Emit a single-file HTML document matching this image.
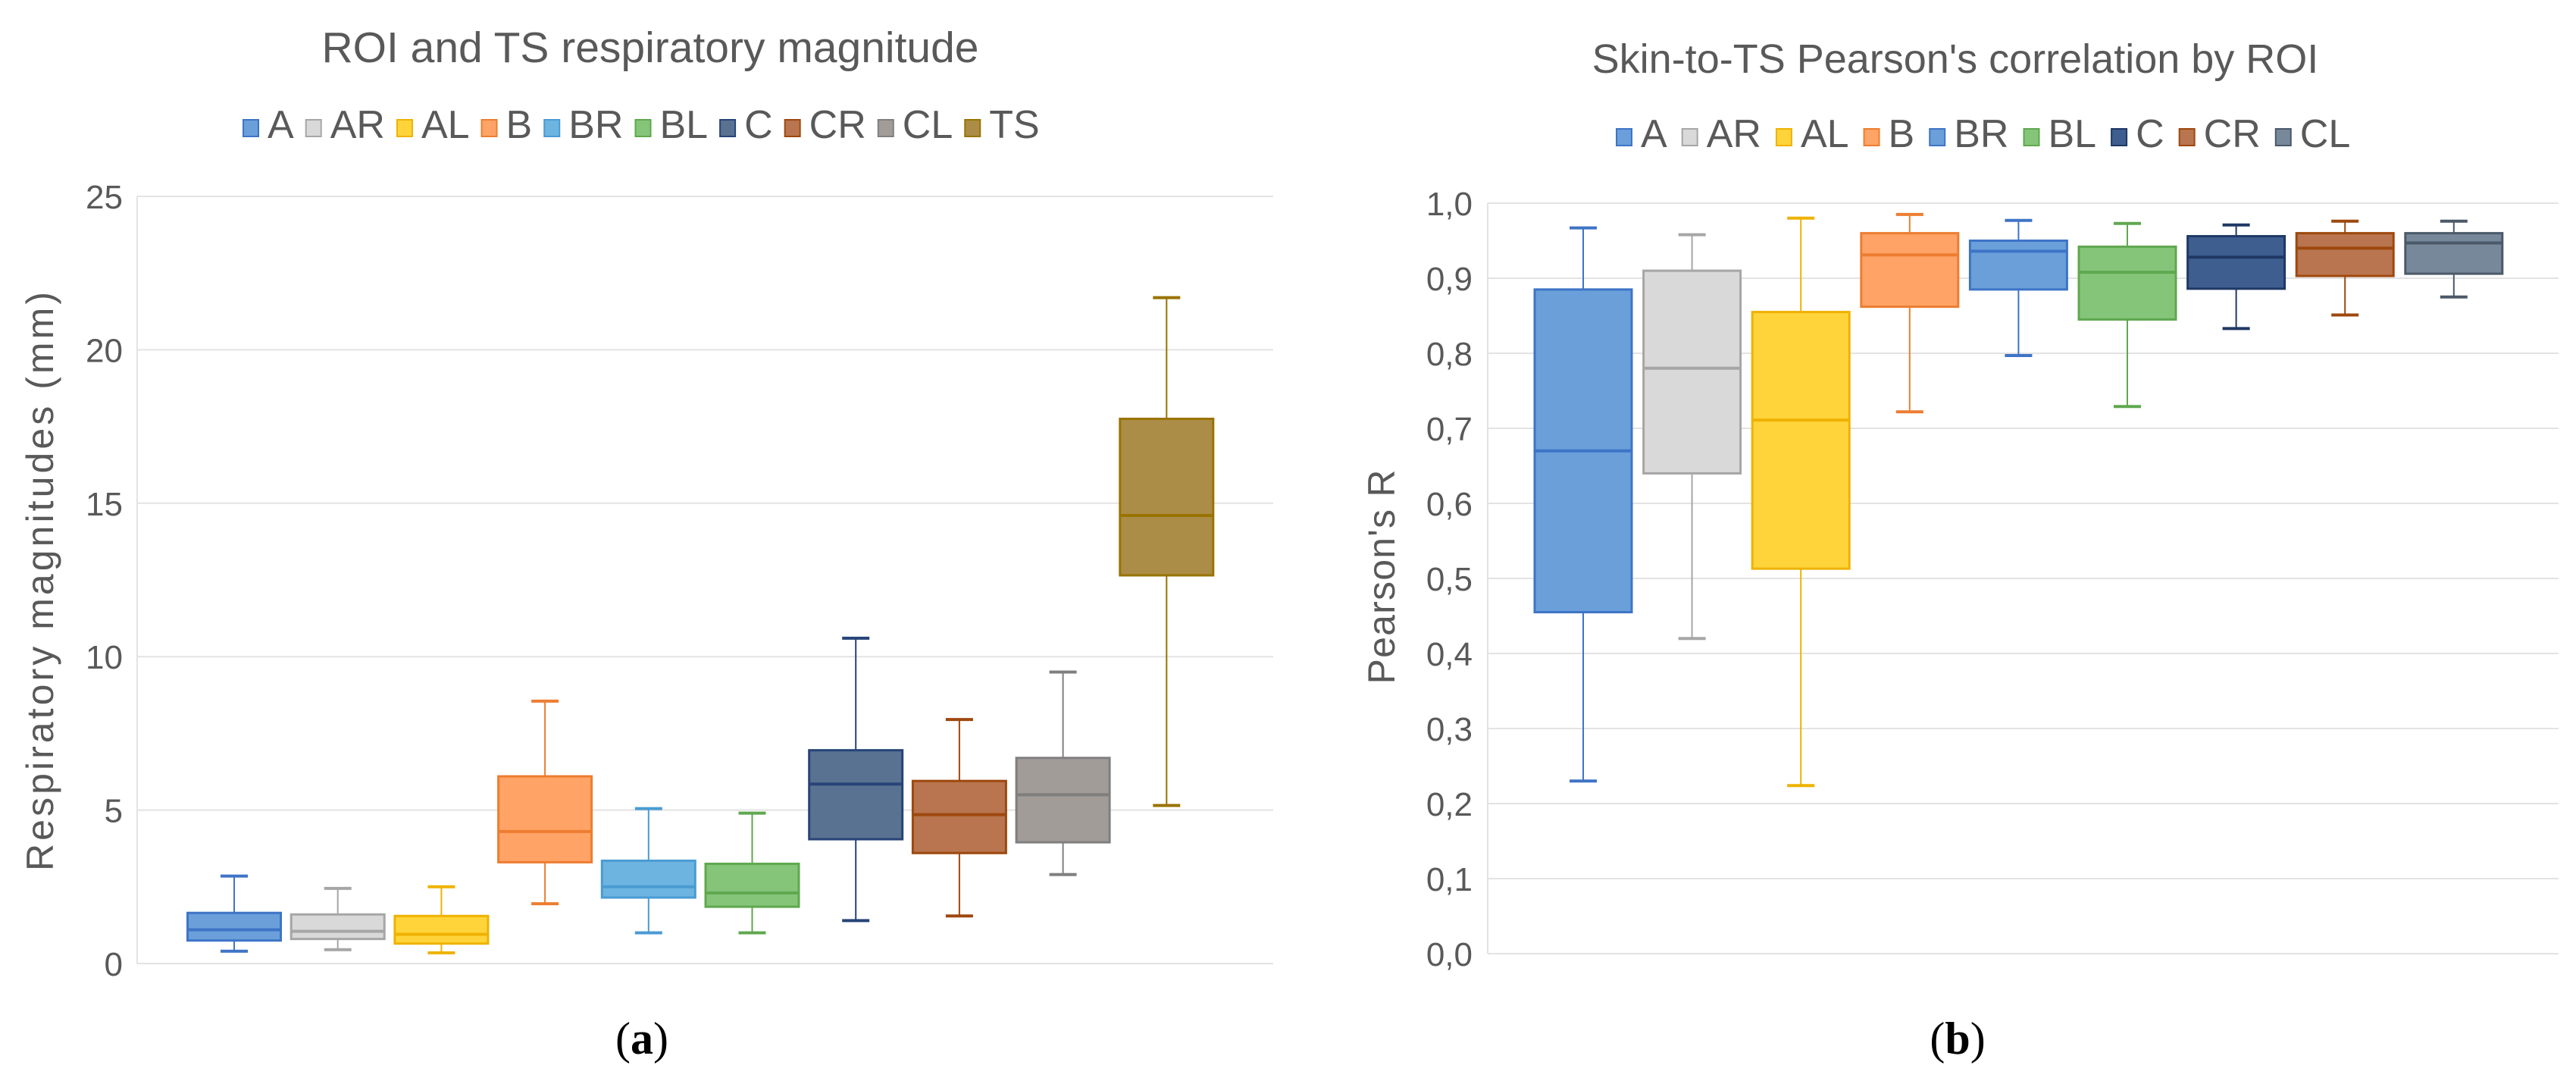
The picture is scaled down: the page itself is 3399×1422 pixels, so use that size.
<!DOCTYPE html>
<html><head><meta charset="utf-8"><style>
html,body{margin:0;padding:0;background:#fff;}
body{width:3399px;height:1422px;overflow:hidden;position:relative;font-family:"Liberation Sans",sans-serif;}
svg{position:absolute;left:0;top:0;}
</style></head><body>
<svg id="chart" width="3399" height="1422" viewBox="0 0 3399 1422" xmlns="http://www.w3.org/2000/svg"></svg>
<script>
// ---- chart (a) data ----
const catsA = ["A","AR","AL","B","BR","BL","C","CR","CL","TS"];
const minA = [0.4,0.45,0.35,1.95,1.0,1.0,1.4,1.55,2.9,5.15];
const q1A  = [0.75,0.8,0.65,3.3,2.15,1.85,4.05,3.6,3.95,12.65];
const medA = [1.1,1.05,0.95,4.3,2.5,2.3,5.85,4.85,5.5,14.6];
const q3A  = [1.65,1.6,1.55,6.1,3.35,3.25,6.95,5.95,6.7,17.75];
const maxA = [2.85,2.45,2.5,8.55,5.05,4.9,10.6,7.95,9.5,21.7];
const ticksA = ["0","5","10","15","20","25"];
const tickValsA = [0,5,10,15,20,25];
// ---- chart (b) data ----
const catsB = ["A","AR","AL","B","BR","BL","C","CR","CL"];
const minB = [0.23,0.42,0.224,0.722,0.797,0.729,0.833,0.851,0.875];
const q1B  = [0.455,0.64,0.513,0.862,0.885,0.845,0.886,0.903,0.906];
const medB = [0.67,0.78,0.711,0.931,0.936,0.908,0.928,0.94,0.947];
const q3B  = [0.885,0.91,0.855,0.96,0.95,0.942,0.956,0.96,0.96];
const maxB = [0.967,0.958,0.98,0.985,0.977,0.973,0.971,0.976,0.976];
const ticksB = ["0,0","0,1","0,2","0,3","0,4","0,5","0,6","0,7","0,8","0,9","1,0"];
const tickValsB = [0,0.1,0.2,0.3,0.4,0.5,0.6,0.7,0.8,0.9,1.0];

const fillsA = ["#6A9FDA","#D9D9D9","#FFD43B","#FFA366","#6DB5E0","#85C57A","#5A7291","#B8754F","#A29C99","#AB8D47"];
const strokesA = ["#3E74C6","#A6A6A6","#EFB200","#ED7D31","#4A9BD3","#5FA84F","#264478","#9E480E","#7F7F7F","#997300"];
const fillsB = ["#6A9FDA","#D9D9D9","#FFD43B","#FFA366","#6A9FDA","#85C57A","#3D5E8E","#B8754F","#76889A"];
const strokesB = ["#3E74C6","#A6A6A6","#EFB200","#ED7D31","#3E74C6","#5FA84F","#203864","#9E480E","#4B5968"];

const NS = "http://www.w3.org/2000/svg";
const svg = document.getElementById('chart');
function mk(tag, attrs, parent){
  const e = document.createElementNS(NS, tag);
  for (const k in attrs) e.setAttribute(k, attrs[k]);
  (parent||svg).appendChild(e);
  return e;
}

function drawChart(cfg){
  const g = mk('g', {});
  
  
  const y = v => cfg.y0 + (v - cfg.vmin) / (cfg.vmax - cfg.vmin) * (cfg.y1 - cfg.y0);
  const x = i => cfg.xFirst + i * cfg.step;
  const t = mk('text', {x: cfg.titleX, y: cfg.titleY, 'text-anchor':'middle', 'font-size': cfg.titleSize, fill:'#595959'}, g);
  t.textContent = cfg.title;
  
  
  cfg.tickVals.forEach((v, i) => {
    const gl = mk('line', {x1: cfg.left, x2: cfg.right, y1: y(v), y2: y(v), stroke:'#E3E3E3', 'stroke-width': 2}, g);
    
    
    const tl = mk('text', {x: cfg.tickX, y: y(v) + 16, 'text-anchor':'end', 'font-size': 44, fill:'#595959'}, g);
    tl.textContent = cfg.ticks[i];
    
    
  });
  const ax = mk('line', {x1: cfg.left, x2: cfg.left, y1: y(cfg.vmax), y2: y(cfg.vmin), stroke:'#E3E3E3', 'stroke-width': 2}, g);
  
  
  const yt = mk('text', {x: 0, y: 0, 'text-anchor':'middle', 'font-size': 50, fill:'#595959',
    transform: `translate(${cfg.yTitleX},${cfg.yTitleY}) rotate(-90)`, textLength: cfg.yTitleLen, lengthAdjust:'spacing'}, g);
  yt.textContent = cfg.yTitle;
  
  
  cfg.cats.forEach((c, i) => {
    const bg = mk('g', {}, g);
    
    
    const cx = x(i), hw = cfg.bw / 2, cw = 18;
    const st = cfg.strokes[i];
    mk('line', {x1: cx, x2: cx, y1: y(cfg.max[i]), y2: y(cfg.q3[i]), stroke: st, 'stroke-width': 2}, bg);
    mk('line', {x1: cx, x2: cx, y1: y(cfg.q1[i]), y2: y(cfg.min[i]), stroke: st, 'stroke-width': 2}, bg);
    mk('line', {x1: cx - cw, x2: cx + cw, y1: y(cfg.max[i]), y2: y(cfg.max[i]), stroke: st, 'stroke-width': 4}, bg);
    mk('line', {x1: cx - cw, x2: cx + cw, y1: y(cfg.min[i]), y2: y(cfg.min[i]), stroke: st, 'stroke-width': 4}, bg);
    mk('rect', {x: cx - hw, y: y(cfg.q3[i]), width: cfg.bw, height: y(cfg.q1[i]) - y(cfg.q3[i]), fill: cfg.fills[i], stroke: st, 'stroke-width': 3}, bg);
    mk('line', {x1: cx - hw, x2: cx + hw, y1: y(cfg.med[i]), y2: y(cfg.med[i]), stroke: st, 'stroke-width': 4}, bg);
  });
  const lg = mk('g', {}, g);
  
  
  let lx = cfg.legendX;
  cfg.cats.forEach((c, i) => {
    const eg = mk('g', {}, lg);
    
    
    mk('rect', {x: lx, y: cfg.legendY - 24, width: 20, height: 22, fill: cfg.fills[i], stroke: cfg.strokes[i], 'stroke-width': 2}, eg);
    const tx = mk('text', {x: lx + 32, y: cfg.legendY, 'font-size': 52, fill:'#595959'}, eg);
    tx.textContent = c;
    const w = tx.getComputedTextLength();
    lx += 32 + w + cfg.legendGap;
  });
  const cap = mk('text', {x: cfg.capX, y: 1390, 'text-anchor':'middle', 'font-size': 60, 'font-family':'Liberation Serif, serif', fill:'#000'}, g);
  cap.innerHTML = '(<tspan font-weight="bold">' + cfg.cap + '</tspan>)';
  
  
}

drawChart({name:'chart-a-respiratory-magnitude', title:'ROI and TS respiratory magnitude', titleX: 858, titleY: 82, titleSize: 57,
  cats: catsA, min: minA, q1: q1A, med: medA, q3: q3A, max: maxA, ticks: ticksA, tickVals: tickValsA,
  vmin: 0, vmax: 25, y0: 1271, y1: 259, left: 181, right: 1680, xFirst: 309, step: 136.7, bw: 123,
  tickX: 162, yTitle: 'Respiratory magnitudes (mm)', yTitleX: 70, yTitleY: 767, yTitleLen: 764,
  fills: fillsA, strokes: strokesA, legendX: 321, legendY: 182, legendGap: 16, capX: 847, cap: 'a'});

drawChart({name:'chart-b-pearson-correlation', title:"Skin-to-TS Pearson's correlation by ROI", titleX: 2580, titleY: 96, titleSize: 54,
  cats: catsB, min: minB, q1: q1B, med: medB, q3: q3B, max: maxB, ticks: ticksB, tickVals: tickValsB,
  vmin: 0, vmax: 1, y0: 1258, y1: 268, left: 1963, right: 3376, xFirst: 2089, step: 143.6, bw: 128,
  tickX: 1943, yTitle: "Pearson's R", yTitleX: 1840, yTitleY: 761, yTitleLen: 283,
  fills: fillsB, strokes: strokesB, legendX: 2133, legendY: 194, legendGap: 20, capX: 2583, cap: 'b'});
</script>
</body></html>
